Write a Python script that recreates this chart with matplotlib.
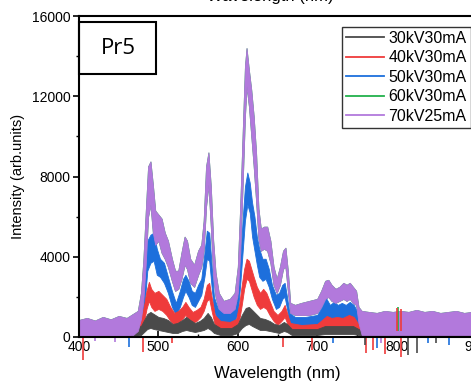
import matplotlib
matplotlib.use("Agg")
from matplotlib import pyplot as plt
import matplotlib.ticker as ticker
from matplotlib.patches import Rectangle

plt.rcParams["font.family"] = ["Liberation Sans", "DejaVu Sans"]

# (wavelength nm, lower edge, upper edge) of each noisy spectrum band
kv30 = [(400, 50, 450), (440, 50, 450), (470, 50, 450), (478, 100, 550), (482, 250, 850),
        (486, 400, 1150), (490, 450, 1250), (494, 400, 1150), (500, 350, 1000), (506, 300, 950),
        (512, 250, 850), (518, 200, 650), (524, 200, 700), (530, 300, 850), (535, 350, 1000),
        (540, 300, 850), (546, 250, 700), (552, 300, 800), (557, 350, 950), (562, 450, 1200),
        (566, 350, 1000), (570, 200, 650), (578, 100, 450), (592, 100, 450), (600, 200, 650),
        (605, 450, 1100), (610, 600, 1450), (614, 650, 1500), (618, 550, 1350), (623, 450, 1150),
        (628, 350, 950), (634, 350, 900), (640, 300, 800), (646, 250, 650), (652, 200, 600),
        (658, 300, 750), (662, 250, 650), (668, 100, 400), (700, 100, 400), (710, 150, 550),
        (720, 150, 550), (735, 150, 550), (745, 150, 550), (752, 100, 400), (757, 50, 300),
        (900, 50, 300)]

kv40 = [(400, 100, 600), (430, 100, 650), (460, 150, 650), (472, 150, 700), (478, 300, 900),
        (482, 800, 1600), (485, 1400, 2300), (488, 1800, 2750), (491, 1500, 2400), (495, 1300, 2200),
        (500, 1400, 2300), (505, 1300, 2100), (510, 1100, 1900), (515, 800, 1500), (520, 600, 1200),
        (525, 700, 1300), (530, 900, 1500), (534, 1100, 1750), (538, 900, 1500), (543, 700, 1250),
        (548, 800, 1350), (553, 1000, 1500), (557, 1300, 1900), (561, 1800, 2600), (564, 1900, 2700),
        (567, 1300, 2000), (571, 600, 1100), (578, 300, 800), (590, 300, 750), (598, 400, 900),
        (602, 900, 1700), (605, 1600, 2600), (608, 2400, 3400), (611, 2900, 3900), (614, 2800, 3800),
        (617, 2400, 3400), (620, 2000, 3000), (624, 1600, 2500), (628, 1400, 2200), (632, 1500, 2400),
        (636, 1400, 2200), (640, 1100, 1800), (645, 800, 1300), (650, 600, 1100), (655, 800, 1300),
        (659, 1000, 1600), (662, 700, 1200), (666, 250, 700), (680, 200, 600), (700, 250, 650),
        (706, 350, 850), (712, 500, 1050), (718, 400, 950), (725, 450, 1000), (732, 400, 950),
        (740, 500, 1100), (746, 450, 1000), (751, 300, 700), (755, 100, 450), (800, 100, 450),
        (850, 100, 450), (900, 100, 450)]

kv50 = [(400, 150, 700), (420, 150, 750), (440, 150, 700), (460, 200, 800), (470, 250, 850),
        (476, 350, 1000), (480, 700, 1600), (483, 1800, 3200), (486, 3300, 4800), (490, 3700, 5100),
        (494, 3800, 5200), (498, 3100, 4400), (502, 3000, 3900), (507, 2700, 3700), (512, 2200, 3000),
        (517, 1500, 2300), (522, 1100, 1700), (527, 1500, 2300), (531, 2000, 2900), (534, 2300, 3100),
        (538, 2000, 2800), (542, 1600, 2300), (546, 1500, 2200), (550, 1800, 2600), (554, 2100, 2900),
        (558, 3000, 4200), (561, 3900, 5300), (564, 3800, 5200), (567, 2500, 3600), (570, 1300, 2000),
        (575, 800, 1400), (582, 700, 1300), (590, 700, 1300), (596, 800, 1400), (600, 1200, 2000),
        (603, 2600, 3800), (606, 4200, 5800), (609, 5800, 7500), (612, 6600, 8200), (615, 6200, 7700),
        (618, 5000, 6700), (621, 4300, 6000), (624, 3600, 5000), (627, 3000, 4400), (631, 2800, 3900),
        (635, 2900, 3900), (639, 2500, 3400), (643, 1900, 2600), (648, 1400, 2100), (652, 1500, 2200),
        (656, 1900, 2600), (659, 2000, 2700), (662, 1400, 2000), (665, 600, 1200), (672, 400, 1000),
        (685, 400, 1000), (700, 500, 1100), (706, 700, 1500), (711, 1000, 1950), (716, 800, 1600),
        (721, 900, 1750), (726, 800, 1600), (731, 900, 1700), (736, 800, 1600), (741, 900, 1750),
        (746, 800, 1600), (750, 600, 1300), (753, 200, 600), (770, 150, 600), (800, 150, 650),
        (830, 150, 600), (860, 150, 650), (900, 150, 600)]

kv70 = [(400, 50, 850), (410, 50, 950), (420, 50, 820), (430, 50, 1000), (440, 50, 880),
        (450, 50, 1050), (460, 50, 950), (468, 100, 1150), (474, 300, 1300), (478, 900, 2200),
        (481, 1800, 3800), (484, 3600, 6200), (487, 6000, 8500), (490, 6600, 8750), (493, 5200, 7600),
        (496, 4600, 6300), (500, 4800, 6100), (504, 4200, 5900), (508, 3900, 5200), (512, 3500, 4800),
        (517, 2800, 3900), (521, 2300, 3300), (525, 2400, 3300), (529, 2900, 4200), (533, 3600, 5000),
        (536, 3400, 4800), (540, 2700, 3900), (545, 2500, 3600), (550, 3100, 4300), (554, 3500, 4600),
        (557, 4300, 5800), (560, 6500, 8500), (563, 7600, 9200), (566, 5500, 7500), (569, 3000, 4800),
        (572, 2000, 3200), (576, 1400, 2200), (582, 1200, 1800), (590, 1200, 1900), (596, 1400, 2200),
        (600, 2200, 3500), (603, 4200, 6500), (606, 7500, 10000), (609, 11000, 13500), (611, 12500, 14400),
        (614, 11500, 13300), (617, 10000, 12300), (620, 8500, 11000), (623, 6800, 9200), (626, 4900, 6400),
        (629, 4300, 5400), (633, 4400, 5500), (637, 4300, 5500), (641, 3700, 4800), (645, 2600, 3500),
        (649, 2200, 2900), (653, 2600, 3500), (657, 3400, 4300), (660, 3500, 4450), (663, 2300, 3300),
        (666, 1200, 1700), (672, 1100, 1600), (680, 1100, 1700), (690, 1100, 1800), (700, 1200, 1900),
        (705, 1500, 2300), (710, 1900, 2800), (714, 2000, 2850), (718, 1800, 2600), (723, 1700, 2400),
        (728, 1800, 2500), (733, 1900, 2700), (737, 1800, 2600), (741, 1900, 2700), (745, 1700, 2500),
        (749, 1600, 2300), (752, 700, 1500), (756, 100, 1300), (765, 100, 1250), (775, 100, 1200),
        (785, 100, 1300), (795, 100, 1250), (805, 100, 1300), (815, 100, 1250), (825, 100, 1350),
        (835, 100, 1250), (845, 100, 1300), (855, 100, 1200), (865, 100, 1250), (875, 100, 1300),
        (885, 100, 1200), (895, 100, 1250), (900, 100, 1200)]

# 60 kV spectrum sits under the 70 kV one
kv60 = kv70

# isolated spikes: wavelength, bottom, top, series
spike_wl = [405, 480, 517, 657, 693, 761, 770, 785, 806, 463, 720, 775, 840, 866,
            760, 814, 826, 850, 420, 445, 780, 800, 802, 806]
spike_lo = [-1150, -750, -300, -500, -650, -800, -650, -850, -1000, -500, -300, -550, -300, -400,
            -400, -900, -800, -300, -200, -250, -300, 300, 300, 300]
spike_hi = [0, 0, 0, 0, 0, 0, 0, 0, 0, 0, 0, 0, 0, 0,
            0, 0, 0, 0, 0, 0, 0, 1450, 1500, 1400]
spike_ser = ["40", "40", "40", "40", "40", "40", "40", "40", "40", "50", "50", "50", "50", "50",
             "30", "30", "30", "30", "70", "70", "70", "40", "60", "40"]

labels = ["30kV30mA", "40kV30mA", "50kV30mA", "60kV30mA", "70kV25mA"]
keys = ["30", "40", "50", "60", "70"]
colors = {"30": "#4a4a4a", "40": "#ef3b3b", "50": "#1d6fdc", "60": "#22b14c", "70": "#b279dc"}
layer = {"30": 4, "40": 3, "50": 2, "60": 1, "70": 5}
bands = {"30": kv30, "40": kv40, "50": kv50, "60": kv60, "70": kv70}

fig = plt.figure(figsize=(4.71, 3.82), dpi=100)
ax = fig.add_axes([79 / 471, 1 - 337 / 382, 397 / 471, 321 / 382])

handles = []
for k, lab in zip(keys, labels):
    x = [p[0] for p in bands[k]]
    lo = [p[1] for p in bands[k]]
    hi = [p[2] for p in bands[k]]
    ax.fill_between(x, lo, hi, color=colors[k], lw=0.6, zorder=layer[k])
    h, = ax.plot([], [], color=colors[k], lw=1.3, label=lab)
    handles.append(h)

for w, a, b, s in zip(spike_wl, spike_lo, spike_hi, spike_ser):
    ax.vlines(w, a, b, color=colors[s], lw=1.2, zorder=layer[s] + 5, clip_on=False)

ax.set_xlim(400, 900)
ax.set_ylim(0, 16000)
ax.xaxis.set_major_locator(ticker.MultipleLocator(100))
ax.xaxis.set_minor_locator(ticker.MultipleLocator(50))
ax.yaxis.set_major_locator(ticker.MultipleLocator(4000))
ax.yaxis.set_minor_locator(ticker.MultipleLocator(2000))
ax.tick_params(axis="x", which="both", direction="in", labelsize=10, pad=2)
ax.tick_params(axis="x", which="major", length=4, width=1.2)
ax.tick_params(axis="x", which="minor", length=2.5, width=1)
ax.tick_params(axis="y", which="both", direction="out", labelsize=10, pad=2)
ax.tick_params(axis="y", which="major", length=4, width=1.2)
ax.tick_params(axis="y", which="minor", length=2.5, width=1)
for sp in ax.spines.values():
    sp.set_linewidth(1.5)
    sp.set_zorder(20)

ax.set_xlabel("Wavelength (nm)", fontsize=12, labelpad=9)
ax.set_ylabel("Intensity (arb.units)", fontsize=10.5, labelpad=5)

ax.add_patch(Rectangle((0.0, 0.819), 0.194, 0.162, transform=ax.transAxes,
                       fill=False, ec="black", lw=1.5, zorder=30, clip_on=False))
ax.text(0.1, 0.90, "Pr5", transform=ax.transAxes, ha="center", va="center",
        fontsize=16, family=["Open Sans", "DejaVu Sans"], zorder=31)

leg = fig.legend(handles=handles, loc="upper left", bbox_to_anchor=(342 / 471, 1 - 27 / 382),
                 fontsize=11.5, frameon=True, fancybox=False, handlelength=2.4,
                 handletextpad=0.25, borderpad=0.25, labelspacing=0.28, borderaxespad=0)
leg.get_frame().set_edgecolor("black")
leg.get_frame().set_linewidth(1.0)

# label of the panel above, cut off by the crop
fig.text(270 / 471, 1 - 1.5 / 382, "Wavelength (nm)", ha="center", va="baseline", fontsize=12)

fig.savefig("out.png", dpi=100)
